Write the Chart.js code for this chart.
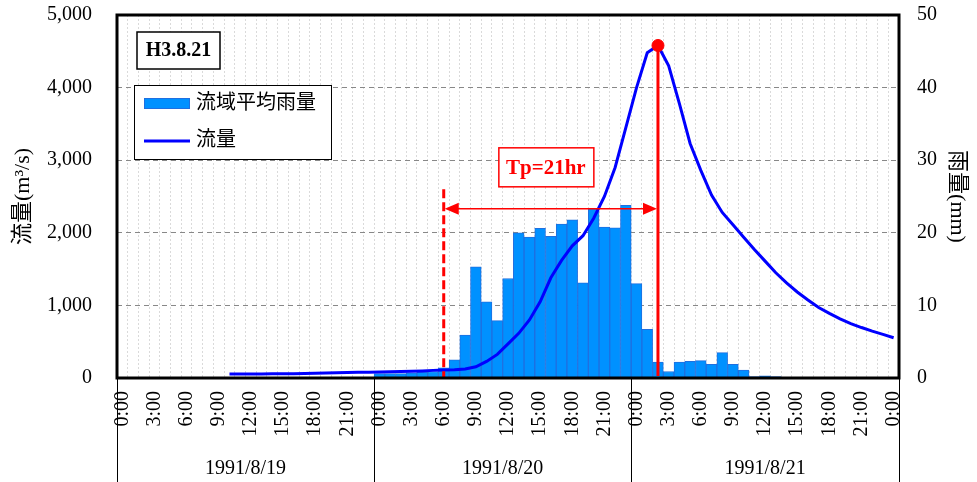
<!DOCTYPE html>
<html lang="ja">
<head>
  <meta charset="UTF-8" />
  <title>H3.8.21 流量・流域平均雨量</title>
  <script src="https://cdn.jsdelivr.net/npm/chart.js"></script>
  <style>
    * { box-sizing: border-box; margin: 0; padding: 0; }
    body { background: #fff; }
    canvas { display: block; }
  </style>
</head>
<body>
  <canvas id="hydro" width="977" height="482"></canvas>

  <script>
    // Data
    const hourLabels = ['0:00', '1:00', '2:00', '3:00', '4:00', '5:00', '6:00', '7:00', '8:00', '9:00', '10:00', '11:00',
                        '12:00', '13:00', '14:00', '15:00', '16:00', '17:00', '18:00', '19:00', '20:00', '21:00', '22:00', '23:00'];
    const dayLabels = ['1991/8/19', '1991/8/20', '1991/8/21'];
    const endLabel = '0:00';

    // 流域平均雨量 (mm/hr), 1991/8/19 0:00 ～ 8/22 0:00
    const rainfall = [
      0, 0, 0, 0, 0, 0, 0, 0, 0, 0, 0, 0, 0, 0, 0, 0, 0, 0, 0, 0, 0, 0, 0, 0,
      0.6, 0.6, 0.6, 0.7, 0.8, 0.9,
      1.4, 2.5, 5.9, 15.3, 10.5, 7.9, 13.7, 20.0, 19.4, 20.6, 19.5, 21.2,
      21.8, 13.1, 23.3, 20.8, 20.7, 23.8,
      13.0, 6.7, 2.2, 0.9, 2.2, 2.3, 2.4, 1.9, 3.5, 1.9, 1.1, 0.2, 0.3, 0.2,
      0, 0, 0, 0, 0, 0, 0, 0, 0, 0, 0
    ];

    // 流量 (m3/s)
    const discharge = [
      null, null, null, null, null, null, null, null, null, null,
      55, 55, 55, 56, 57, 58, 60,
      62, 65, 68, 72, 75, 78, 80,
      82, 85, 88, 92, 97, 105,
      110, 115, 124, 155, 228, 325, 470, 615, 800, 1050, 1380, 1620,
      1820, 1960, 2200, 2500, 2900, 3450, 4000, 4480, 4580,
      4300, 3780, 3230, 2860, 2520, 2280, 2110, 1940, 1770, 1610, 1450,
      1310, 1185, 1075, 970, 890, 815, 750, 695, 645, 600, 555
    ];

    const flowTicks = [0, 1000, 2000, 3000, 4000, 5000];
    const rainTicks = [0, 10, 20, 30, 40, 50];

    // 注記
    const caseName = 'H3.8.21';
    const tpText = 'Tp=21hr';
    const rainStartIdx = 30;   // 8/20 6:00
    const arrowFlow = 2330;
    const dashTopFlow = 2600;
    const tpBoxFlow = 2895;

    // Categories (73 hours)
    const categories = [];
    dayLabels.forEach(() => hourLabels.forEach(h => categories.push(h)));
    categories.push(endLabel);

    const peakFlow = Math.max(...discharge.filter(v => v !== null));
    const peakIdx = discharge.indexOf(peakFlow);
    const peakPoint = discharge.map((v, i) => (i === peakIdx ? v : null));

    const BAR = '#0091ff';
    const BAR_EDGE = '#1f6fe0';
    const LINE = '#0000ff';
    const RED = '#ff0000';
    const SERIF = '"Liberation Serif", "Times New Roman", serif';
    const MIXED = '"Liberation Serif", "Noto Sans CJK JP", serif';

    Chart.defaults.font.family = SERIF;
    Chart.defaults.color = '#000';

    const notes = {
      id: 'notes',
      afterDatasetsDraw(chart) {
        const { ctx, chartArea: a } = chart;
        const x = chart.scales.x, yQ = chart.scales.yQ;
        const xs = x.getPixelForValue(rainStartIdx);
        const xp = x.getPixelForValue(peakIdx);
        const yp = yQ.getPixelForValue(peakFlow);

        ctx.save();
        ctx.strokeStyle = RED;
        ctx.fillStyle = RED;
        ctx.lineWidth = 3;
        ctx.setLineDash([9, 4]);
        ctx.beginPath();
        ctx.moveTo(xs, yQ.getPixelForValue(dashTopFlow));
        ctx.lineTo(xs, a.bottom);
        ctx.stroke();
        ctx.setLineDash([]);
        ctx.beginPath();
        ctx.moveTo(xp, yp);
        ctx.lineTo(xp, a.bottom - 2);
        ctx.stroke();

        // Tp arrow
        const ya = yQ.getPixelForValue(arrowFlow);
        ctx.lineWidth = 1.5;
        ctx.beginPath();
        ctx.moveTo(xs + 10, ya);
        ctx.lineTo(xp - 10, ya);
        ctx.stroke();
        const head = (tip, dir) => {
          ctx.beginPath();
          ctx.moveTo(tip, ya);
          ctx.lineTo(tip + dir * 14, ya - 6);
          ctx.lineTo(tip + dir * 14, ya + 6);
          ctx.closePath();
          ctx.fill();
        };
        head(xs + 1, 1);
        head(xp - 1, -1);

        // Tp box
        const cx = (xs + xp) / 2 - 5, cy = yQ.getPixelForValue(tpBoxFlow);
        ctx.fillStyle = '#fff';
        ctx.fillRect(cx - 47, cy - 20, 95, 39);
        ctx.lineWidth = 1.5;
        ctx.strokeRect(cx - 47, cy - 20, 95, 39);
        ctx.fillStyle = RED;
        ctx.font = 'bold 21px ' + SERIF;
        ctx.textAlign = 'center';
        ctx.textBaseline = 'middle';
        ctx.fillText(tpText, cx, cy + 1);

        // frame
        ctx.strokeStyle = '#000';
        ctx.lineWidth = 3;
        ctx.strokeRect(a.left, a.top, a.right - a.left, a.bottom - a.top);
        ctx.restore();
      },
      afterDraw(chart) {
        const { ctx, chartArea: a } = chart;
        const x = chart.scales.x;
        const half = (x.getPixelForValue(1) - x.getPixelForValue(0)) / 2;
        ctx.save();

        // date row
        ctx.strokeStyle = '#000';
        ctx.lineWidth = 1;
        const edges = dayLabels.map((d, k) => x.getPixelForValue(k * hourLabels.length) - half);
        edges.push(a.right);
        edges.forEach(px => {
          ctx.beginPath();
          ctx.moveTo(Math.round(px) + 0.5, a.bottom);
          ctx.lineTo(Math.round(px) + 0.5, chart.height);
          ctx.stroke();
        });
        ctx.font = '20px ' + SERIF;
        ctx.fillStyle = '#000';
        ctx.textAlign = 'center';
        ctx.textBaseline = 'alphabetic';
        dayLabels.forEach((d, k) => ctx.fillText(d, (edges[k] + edges[k + 1]) / 2, a.bottom + 96));

        // case box
        ctx.fillStyle = '#fff';
        ctx.fillRect(a.left + 20, a.top + 17, 83, 37);
        ctx.lineWidth = 1.5;
        ctx.strokeRect(a.left + 20, a.top + 17, 83, 37);
        ctx.fillStyle = '#000';
        ctx.font = 'bold 20px ' + SERIF;
        ctx.textBaseline = 'middle';
        ctx.fillText(caseName, a.left + 61.5, a.top + 36);

        // legend
        const lx = a.left + 17, ly = a.top + 70;
        ctx.fillStyle = '#fff';
        ctx.fillRect(lx, ly, 197, 74);
        ctx.lineWidth = 1;
        ctx.strokeRect(lx + 0.5, ly + 0.5, 197, 74);
        ctx.fillStyle = BAR;
        ctx.fillRect(lx + 10, ly + 13, 46, 11);
        ctx.strokeStyle = BAR_EDGE;
        ctx.strokeRect(lx + 10.5, ly + 13.5, 45, 10);
        ctx.strokeStyle = LINE;
        ctx.lineWidth = 3;
        ctx.beginPath();
        ctx.moveTo(lx + 10, ly + 56);
        ctx.lineTo(lx + 56, ly + 56);
        ctx.stroke();
        ctx.fillStyle = '#000';
        ctx.textAlign = 'left';
        ctx.font = '20px ' + MIXED;
        ctx.fillText(chart.data.datasets[1].label, lx + 62, ly + 19);
        ctx.fillText(chart.data.datasets[0].label, lx + 62, ly + 56);
        ctx.restore();
      }
    };

    // fixed plot box: 117..899 x 15..378
    const noPad = s => { s.paddingTop = 0; s.paddingBottom = 0; s.paddingLeft = 0; s.paddingRight = 0; };

    new Chart(document.getElementById('hydro'), {
      type: 'bar',
      data: {
        labels: categories,
        datasets: [
          {
            type: 'line',
            label: '流量',
            data: discharge,
            yAxisID: 'yQ',
            borderColor: LINE,
            borderWidth: 3,
            pointRadius: 0,
            tension: 0,
            order: 1
          },
          {
            type: 'bar',
            label: '流域平均雨量',
            data: rainfall,
            yAxisID: 'yR',
            backgroundColor: BAR,
            borderColor: BAR_EDGE,
            borderWidth: 1,
            barPercentage: 1,
            categoryPercentage: 1,
            order: 2
          },
          {
            type: 'line',
            label: 'peak',
            data: peakPoint,
            yAxisID: 'yQ',
            showLine: false,
            pointRadius: 6,
            pointBackgroundColor: RED,
            pointBorderColor: RED,
            order: 0
          }
        ]
      },
      options: {
        responsive: false,
        animation: false,
        layout: { padding: { top: 15, left: 0, right: 0, bottom: 0 } },
        plugins: {
          legend: { display: false },
          tooltip: { enabled: false }
        },
        scales: {
          x: {
            offset: true,
            grid: { color: '#dadada', lineWidth: 1, offset: true, drawTicks: false },
            border: { display: false, dash: [2, 2] },
            ticks: {
              autoSkip: false,
              minRotation: 90,
              maxRotation: 90,
              padding: 13,
              font: { size: 20 },
              callback(value, index) {
                return index % 3 === 0 ? this.getLabelForValue(value) : '';
              }
            },
            afterFit(s) { s.height = 104; noPad(s); }
          },
          yQ: {
            position: 'left',
            min: 0,
            max: 5000,
            afterBuildTicks(s) { s.ticks = flowTicks.map(v => ({ value: v })); },
            grid: { color: '#888', lineWidth: 1, drawTicks: false },
            border: { display: false, dash: [5, 4] },
            ticks: {
              padding: 25,
              font: { size: 20 },
              callback: v => v.toLocaleString('en-US')
            },
            title: {
              display: true,
              text: '流量(m³/s)',
              font: { size: 22, family: MIXED },
              padding: { top: 10, bottom: 0 }
            },
            afterFit(s) { s.width = 117; noPad(s); }
          },
          yR: {
            position: 'right',
            min: 0,
            max: 50,
            afterBuildTicks(s) { s.ticks = rainTicks.map(v => ({ value: v })); },
            grid: { display: false, drawTicks: false },
            border: { display: false },
            ticks: { padding: 18, font: { size: 20 } },
            title: {
              display: true,
              text: '雨量(mm)',
              font: { size: 22, family: MIXED },
              padding: { top: 7, bottom: 0 }
            },
            afterFit(s) { s.width = 78; noPad(s); }
          }
        }
      },
      plugins: [notes]
    });
  </script>
</body>
</html>
